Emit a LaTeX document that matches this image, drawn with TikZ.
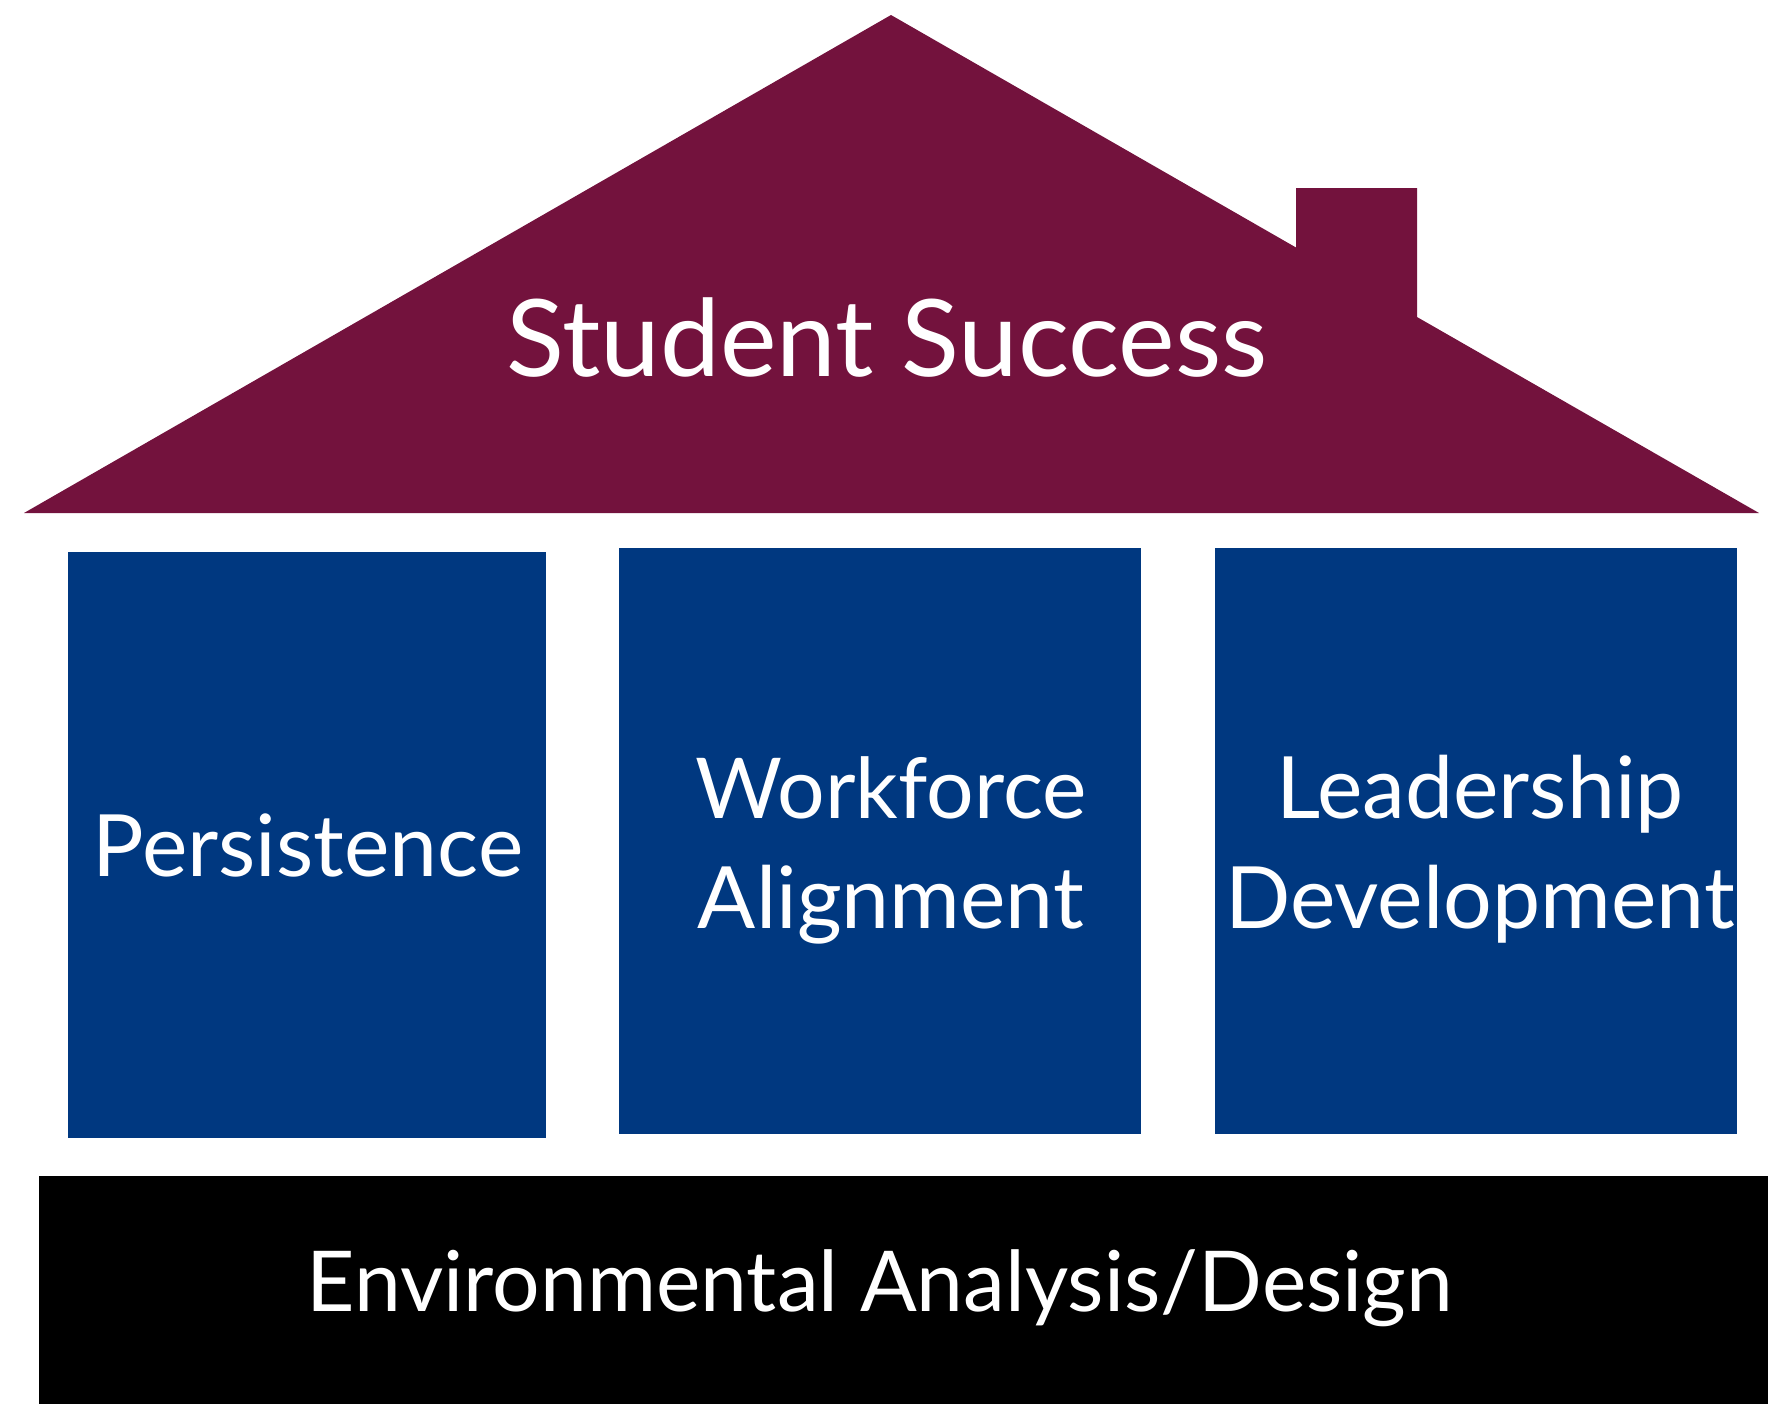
\documentclass[tikz,border=0pt]{standalone}
\usepackage{fontspec}
\setmainfont{Lato}
\definecolor{roofc}{RGB}{115,18,61}
\definecolor{pillarc}{RGB}{0,56,128}
\tikzset{
  lbl/.style={text=white, anchor=base, inner sep=0pt, align=center},
  pillar/.style={fill=pillarc, draw=none},
}
\begin{document}
\begin{tikzpicture}[x=0.5pt,y=-0.5pt]
\useasboundingbox (0,0) rectangle (1768,1404);
% roof with chimney
\fill[roofc] (24,513) -- (891,15) -- (1296,247.5) -- (1296,188) -- (1417,188) -- (1417,317) -- (1759,513) -- cycle;
\node[lbl, font=\fontsize{53.5}{60}\selectfont] (roof) at (887,376) {Student Success};
% pillars
\fill[pillar] (68,552) rectangle (546,1138);
\fill[pillar] (619,548) rectangle (1141,1134);
\fill[pillar] (1215,548) rectangle (1737,1134);
\node[lbl, font=\fontsize{43}{55}\selectfont] (pers) at (308,876) {Persistence};
\node[lbl, font=\fontsize{42}{55}\selectfont] (work1) at (891,818) {Workforce};
\node[lbl, font=\fontsize{43}{55}\selectfont] (work2) at (891,928) {Alignment};
\node[lbl, font=\fontsize{43}{55}\selectfont] (lead1) at (1480,818) {Leadership};
\node[lbl, font=\fontsize{43}{55}\selectfont] (lead2) at (1480,928) {Development};
% base
\fill[black] (39,1176) rectangle (1768,1404);
\node[lbl, font=\fontsize{42}{50}\selectfont] (base) at (880,1311) {Environmental Analysis/Design};
\end{tikzpicture}
\end{document}
